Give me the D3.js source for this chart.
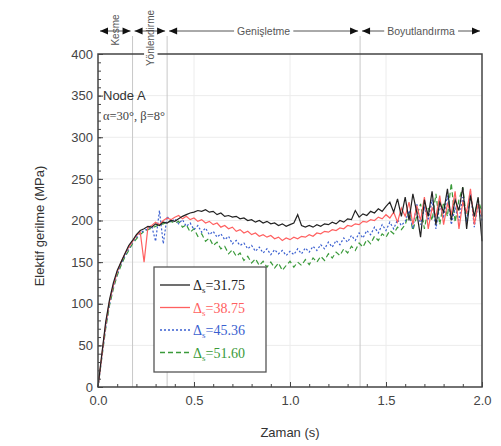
<!DOCTYPE html>
<html><head><meta charset="utf-8">
<script src="https://cdn.jsdelivr.net/npm/d3@7"></script>
<style>body{margin:0;background:#fff}svg{display:block}</style>
</head><body><svg id="c" width="501" height="446"></svg>
<script>
const times = [0,0.02,0.04,0.06,0.08,0.10,0.12,0.14,0.16,0.18,0.20,0.22,0.24,0.26,0.28,0.30,0.32,0.34,0.36,0.38,0.40,0.42,0.44,0.46,0.48,0.50,0.52,0.54,0.56,0.58,0.60,0.62,0.64,0.66,0.68,0.70,0.72,0.74,0.76,0.78,0.80,0.82,0.84,0.86,0.88,0.90,0.92,0.94,0.96,0.98,1.00,1.02,1.04,1.06,1.08,1.10,1.12,1.14,1.16,1.18,1.20,1.22,1.24,1.26,1.28,1.30,1.32,1.34,1.36,1.38,1.40,1.42,1.44,1.46,1.48,1.50,1.52,1.54,1.56,1.58,1.60,1.62,1.64,1.66,1.68,1.70,1.72,1.74,1.76,1.78,1.80,1.82,1.84,1.86,1.88,1.90,1.92,1.94,1.96,1.98,2.00];
const s3175 = [0,40,78,105,125,140,150,160,170,176,183,188,190,193,192,196,194,198,197,200,199,202,205,207,209,210,212,211,213,210,211,207,209,205,206,204,205,202,203,200,201,198,200,197,199,196,197,194,196,193,195,197,207,194,192,194,192,195,193,196,195,198,196,200,198,202,201,212,204,208,206,211,209,214,211,217,222,210,226,205,228,200,232,210,180,225,205,235,195,222,210,238,200,225,212,240,190,230,205,228,175];
const s3875 = [0,38,75,103,122,138,150,160,168,175,182,186,150,192,194,198,195,200,203,201,204,206,202,205,201,203,199,201,197,199,195,197,192,194,190,192,187,189,185,187,183,185,181,183,180,182,178,180,176,179,177,180,178,181,180,183,181,185,184,187,186,189,188,191,190,194,193,196,195,199,198,201,200,204,202,207,203,210,198,215,205,222,195,218,200,228,190,215,205,230,195,220,208,235,190,222,210,238,195,220,205];
const s4536 = [0,36,72,100,120,136,148,158,166,174,180,185,188,190,193,175,212,172,205,198,202,196,201,193,197,189,194,186,191,183,187,180,184,177,181,172,176,170,173,166,170,163,168,161,166,159,165,160,164,158,163,159,166,160,167,162,169,164,171,166,174,168,176,171,179,174,182,176,185,179,188,183,192,185,195,188,198,190,201,194,199,212,190,220,195,215,200,225,190,218,205,230,195,215,200,228,198,235,192,220,200];
const s5160 = [0,35,70,98,118,134,146,156,164,172,178,183,187,189,191,193,195,196,198,199,197,199,192,195,186,190,181,184,175,179,170,174,166,169,160,165,157,161,152,157,149,154,146,151,144,150,143,149,140,146,151,144,150,146,153,147,155,150,157,152,160,155,162,158,166,161,169,164,173,168,177,172,181,176,184,180,188,184,192,189,195,210,188,205,220,190,215,200,232,195,222,205,245,198,225,240,200,230,205,225,210];
const seriesLabels = ["31.75","38.75","45.36","51.60"];
const seriesColors = ["#222222","#ff6060","#3a5fd0","#3a9a3a"];
const seriesDash = [null,null,"2,2","5,3"];
const yTicks = [0,50,100,150,200,250,300,350,400];
const xTicks = [0.0,0.5,1.0,1.5,2.0];
const phaseBounds = [0.18,0.36,1.365];
const phaseNames = ["Kesme","Yönlendirme","Genişletme","Boyutlandırma"];

const svg = d3.select("#c");
const L=98,R=482,T=54,B=387;
const x = d3.scaleLinear().domain([0,2]).range([L,R]);
const y = d3.scaleLinear().domain([0,400]).range([B,T]);
const axisCol="#444";

svg.append("g").selectAll("line").data(xTicks.slice(1,-1)).join("line")
  .attr("x1",d=>x(d)).attr("x2",d=>x(d)).attr("y1",T).attr("y2",B)
  .attr("stroke","#ececec").attr("stroke-width",1);
svg.append("g").selectAll("line").data(yTicks.slice(1,-1)).join("line")
  .attr("x1",L).attr("x2",R).attr("y1",d=>y(d)).attr("y2",d=>y(d))
  .attr("stroke","#ececec").attr("stroke-width",1);

svg.append("g").selectAll("line").data(phaseBounds).join("line")
  .attr("x1",d=>x(d)).attr("x2",d=>x(d)).attr("y1",36).attr("y2",B)
  .attr("stroke","#c8c8c8").attr("stroke-width",1);

const series=[s3175,s3875,s4536,s5160];
const line=d3.line().x((d,i)=>x(times[i])).y(d=>y(d));
[3,2,1,0].forEach(k=>{
  svg.append("path").datum(series[k]).attr("d",line).attr("fill","none")
    .attr("stroke",seriesColors[k]).attr("stroke-width",1.2)
    .attr("stroke-dasharray",seriesDash[k]);
});

const ax=svg.append("g").attr("transform",`translate(0,${B})`)
  .call(d3.axisBottom(x).tickValues(d3.range(0,2.001,0.1)).tickSize(-3).tickFormat(""));
ax.select(".domain").remove();
ax.selectAll("line").attr("stroke",axisCol);
const axM=svg.append("g").attr("transform",`translate(0,${B})`)
  .call(d3.axisBottom(x).tickValues(xTicks).tickSize(-5).tickPadding(9).tickFormat(d3.format(".1f")));
axM.select(".domain").remove();
axM.selectAll("line").attr("stroke",axisCol);
axM.selectAll("text").attr("font-family","Liberation Sans, Arial").attr("font-size",13).attr("fill","#444");

const ay=svg.append("g").attr("transform",`translate(${L},0)`)
  .call(d3.axisLeft(y).tickValues(d3.range(0,401,10)).tickSize(-3).tickFormat(""));
ay.select(".domain").remove();
ay.selectAll("line").attr("stroke",axisCol);
const ayM=svg.append("g").attr("transform",`translate(${L},0)`)
  .call(d3.axisLeft(y).tickValues(yTicks).tickSize(-5).tickPadding(5));
ayM.select(".domain").remove();
ayM.selectAll("line").attr("stroke",axisCol);
ayM.selectAll("text").attr("font-family","Liberation Sans, Arial").attr("font-size",13).attr("fill","#444");

const fr=svg.append("g").attr("stroke",axisCol).attr("stroke-width",1.5).attr("fill","none");
fr.append("path").attr("d",`M${x(0.24)},${T}H${L}V${B}H${R}V${T}H${x(0.31)}`);

const ay0=31;
const ann=svg.append("g");
function arrowHead(px,dir){
  ann.append("path").attr("d",`M${px},${ay0}l${-dir*8},-3.5v7z`).attr("fill","#111");
}
const segs=[[0,phaseBounds[0]],[phaseBounds[0],phaseBounds[1]],[phaseBounds[1],phaseBounds[2]],[phaseBounds[2],2]];
segs.forEach(([a,b],i)=>{
  const xa=x(a)+2, xb=x(b)-2;
  ann.append("line").attr("x1",xa).attr("x2",xb).attr("y1",ay0).attr("y2",ay0).attr("stroke","#555").attr("stroke-width",1);
  arrowHead(xa,-1); arrowHead(xb,1);
});
[[2,phaseNames[2]],[3,phaseNames[3]]].forEach(([i,n])=>{
  const cx=(x(segs[i][0])+x(segs[i][1]))/2;
  const t=ann.append("text").attr("x",cx).attr("y",ay0+4).attr("text-anchor","middle")
    .attr("font-family","Liberation Sans, Arial").attr("font-size",10.5).attr("fill","#555").text(n);
  const bb=t.node().getBBox();
  ann.insert("rect","text").attr("x",bb.x-3).attr("y",bb.y).attr("width",bb.width+6).attr("height",bb.height).attr("fill","#fff");
});
ann.append("text").attr("transform",`translate(${(x(0)+x(phaseBounds[0]))/2+4},30) rotate(-90)`)
  .attr("text-anchor","middle").attr("font-family","Liberation Sans, Arial").attr("font-size",10)
  .attr("fill","#555").text(phaseNames[0]);
ann.append("text").attr("transform",`translate(${(x(phaseBounds[0])+x(phaseBounds[1]))/2+4},38) rotate(-90)`)
  .attr("text-anchor","middle").attr("font-family","Liberation Sans, Arial").attr("font-size",10)
  .attr("fill","#555").text(phaseNames[1]);

svg.append("text").attr("x",103).attr("y",100).attr("font-family","Liberation Sans, Arial")
  .attr("font-size",13).attr("fill","#333").text("Node A");
svg.append("text").attr("x",103).attr("y",120).attr("font-family","Liberation Serif, Times New Roman")
  .attr("font-size",12.5).attr("fill","#444").text("α=30°, β=8°");

svg.append("text").attr("x",290).attr("y",437).attr("text-anchor","middle")
  .attr("font-family","Liberation Sans, Arial").attr("font-size",13).attr("fill","#333").text("Zaman (s)");
svg.append("text").attr("transform","translate(44,226) rotate(-90)").attr("text-anchor","middle")
  .attr("font-family","Liberation Sans, Arial").attr("font-size",13).attr("fill","#333").text("Elektif gerilme (MPa)");

const lg=svg.append("g");
lg.append("rect").attr("x",154).attr("y",267).attr("width",112).attr("height",105)
  .attr("fill","#fff").attr("stroke","#555").attr("stroke-width",1.3);
seriesLabels.forEach((lab,i)=>{
  const yy=285+i*22.5;
  lg.append("line").attr("x1",160).attr("x2",190).attr("y1",yy).attr("y2",yy)
    .attr("stroke",seriesColors[i]).attr("stroke-width",1.3).attr("stroke-dasharray",seriesDash[i]);
  const t=lg.append("text").attr("x",193).attr("y",yy+5).attr("font-family","Liberation Serif, Times New Roman")
    .attr("font-size",14).attr("fill",seriesColors[i]);
  t.append("tspan").text("Δ");
  t.append("tspan").attr("font-size",9).attr("dy",3).text("s");
  t.append("tspan").attr("dy",-3).text("="+lab);
});
</script></body></html>
